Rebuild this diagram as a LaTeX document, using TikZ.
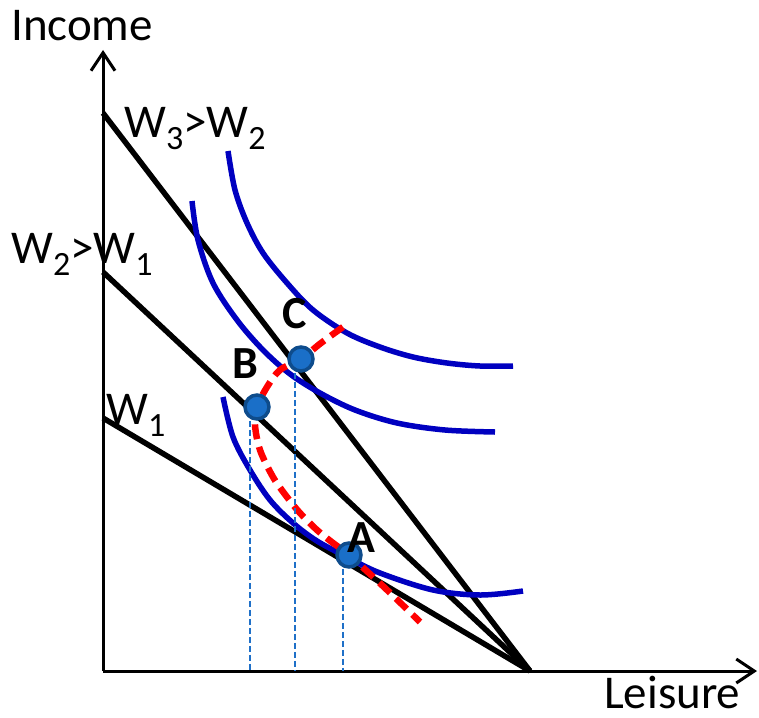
\documentclass[tikz,border=0pt]{standalone}
\usepackage{fontspec}
\setmainfont{Carlito}
\usetikzlibrary{arrows.meta}
\definecolor{icblue}{RGB}{0,0,192}
\definecolor{dotfill}{RGB}{26,111,200}
\definecolor{dotedge}{RGB}{14,76,140}
\definecolor{vlblue}{RGB}{31,112,200}
\newcommand{\lsub}[1]{\raisebox{-12pt}{\fontsize{34}{36}\selectfont #1}}
\tikzset{
  axisline/.style={line width=3pt, -{Straight Barb[length=18pt,width=24pt,line width=3pt]}},
  budget/.style={line width=5.5pt, line cap=butt},
  icurve/.style={line width=5.5pt, icblue},
  expansion/.style={line width=6.5pt, red, dash pattern=on 15pt off 8pt},
  dotmark/.style={circle, fill=dotfill, draw=dotedge, line width=3.5pt, minimum size=24pt, inner sep=0pt},
  vguide/.style={line width=2.5pt, vlblue, dash pattern=on 6pt off 3pt},
  lbl/.style={inner sep=0pt, anchor=base west, font=\fontsize{47}{50}\selectfont},
  ptlbl/.style={inner sep=0pt, anchor=base west, font=\fontsize{46}{50}\selectfont\bfseries},
}
\begin{document}
\begin{tikzpicture}[x=1pt,y=-1pt]
\useasboundingbox (0,0) rectangle (759,717);
% axes
\coordinate (O) at (103,671);
\coordinate (Ytip) at (103,50);
\coordinate (Xtip) at (757,671);
\draw[axisline] (O) -- (Ytip);
\draw[axisline] (O) -- (Xtip);
\node[lbl] (income) at (11,41) {Income};
\node[lbl] (leisure) at (604,708) {Leisure};
% budget lines
\coordinate (T) at (530,671);
\coordinate (Y3) at (103,113);
\coordinate (Y2) at (103,272);
\coordinate (Y1) at (103,418);
\draw[budget] (Y3) -- (T);
\draw[budget] (Y2) -- (T);
\draw[budget] (Y1) -- (T);
\node[lbl] (w3) at (124,137) {W\lsub{3}>W\lsub{2}};
\node[lbl] (w2) at (11,263) {W\lsub{2}>W\lsub{1}};
\node[lbl] (w1) at (106,424) {W\lsub{1}};
% indifference curves
\draw[icurve] plot[smooth, tension=0.55] coordinates {(228,151) (235,190) (247,223) (263,253) (287,283) (313,310) (347,333) (380,347) (413,357) (447,363) (480,366) (513,366)};
\draw[icurve] plot[smooth, tension=0.55] coordinates {(192,201) (198,240) (213,283) (237,320) (263,350) (290,374) (320,393) (355,410) (397,423) (445,430) (495,432)};
\draw[icurve] plot[smooth, tension=0.55] coordinates {(223,397) (233,437) (250,470) (270,500) (293,523) (317,541) (347,557) (380,573) (433,590) (480,595) (523,591)};
% expansion path
\draw[expansion] plot[smooth, tension=0.55] coordinates {(343,327) (321,343) (301,359) (280,370) (267,387) (257,407) (255,425) (260,450) (273,477) (287,497) (300,513) (317,530) (333,543) (349,555) (385,588) (420,622)};
% points
\node[dotmark] (C) at (301,359) {};
\node[dotmark] (B) at (257,407) {};
\node[dotmark] (A) at (349,555) {};
\node[ptlbl] (lc) at (282,328) {C};
\node[ptlbl] (lb) at (232,378) {B};
\node[ptlbl] (la) at (347,552) {A};
% vertical guides
\coordinate (Cf) at (295,671);
\coordinate (Bf) at (250,671);
\coordinate (Af) at (343,671);
\draw[vguide] (Cf |- C.south) -- (Cf);
\draw[vguide] (Bf |- B.south) -- (Bf);
\draw[vguide] (Af |- A.south) -- (Af);
\end{tikzpicture}
\end{document}
